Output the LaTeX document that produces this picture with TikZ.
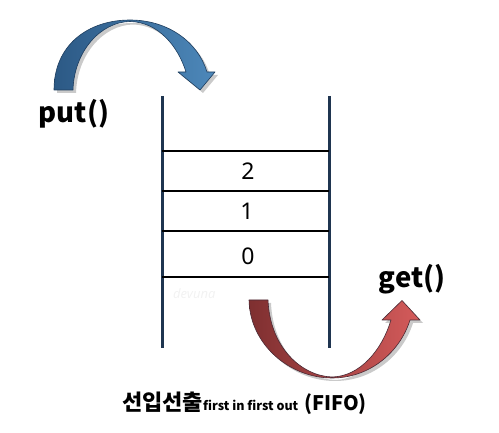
\documentclass[tikz,border=0pt]{standalone}
\usepackage{fontspec}
\setmainfont{Noto Sans}
\newfontfamily\krfont{Noto Sans CJK KR}
\usetikzlibrary{shadows}
\definecolor{navy}{HTML}{1F3550}
\definecolor{bluedark}{HTML}{2C5985}
\definecolor{bluelight}{HTML}{4D88BA}
\definecolor{blueedge}{HTML}{1E3D5E}
\definecolor{reddark}{HTML}{7E2F30}
\definecolor{redlight}{HTML}{D55B5B}
\definecolor{rededge}{HTML}{4A2A35}
\tikzset{
  wall/.style={draw=navy,line width=3pt},
  slot/.style={draw=black,line width=2.5pt},
  digit/.style={anchor=base,font=\fontsize{23}{23}\selectfont,inner sep=0pt},
  fname/.style={anchor=base west,font=\krfont\bfseries\fontsize{27.5}{27.5}\selectfont,inner sep=0pt},
  arrowshadow/.style={drop shadow={shadow xshift=3pt,shadow yshift=-3pt,opacity=0.35,fill=black!60}},
}
\begin{document}
\begin{tikzpicture}[x=1pt,y=-1pt]
\useasboundingbox (0,0) rectangle (499,433);
% walls of the queue
\coordinate (lt) at (162,96);
\coordinate (lb) at (162,348);
\coordinate (rt) at (329,96);
\coordinate (rb) at (329,348);
\draw[wall] (lt) -- (lb);
\draw[wall] (rt) -- (rb);
% slot separators
\foreach \y/\n in {151/a,191/b,231/c,277/d}{
  \coordinate (s\n l) at (162,\y);
  \coordinate (s\n r) at (329,\y);
  \draw[slot] (s\n l) -- (s\n r);
}
% numbers
\node[digit] (n2) at (248,180) {2};
\node[digit] (n1) at (247,220) {1};
\node[digit] (n0) at (248,264.5) {0};
% watermark
\node[text=black!5,font=\fontsize{13}{13}\selectfont\itshape,anchor=base west,inner sep=0pt] (wm) at (173,299) {devuna};
% put arrow (blue)
\path[arrowshadow,left color=bluedark,right color=bluelight,draw=blueedge,line width=0.6pt,line join=round]
  (54,90) .. controls (54,45) and (88,20) .. (130,20)
  .. controls (168,20) and (198,42) .. (207,72)
  -- (215,72) -- (200,90) -- (178,72) -- (186,72)
  .. controls (178,46) and (158,22) .. (130,21.5)
  .. controls (100,22) and (74,52) .. (73,90) -- cycle;
% get arrow (red)
\path[arrowshadow,left color=reddark,right color=redlight,draw=rededge,line width=0.6pt,line join=round]
  (249,300) .. controls (250,345) and (290,378) .. (332,378)
  .. controls (370,378) and (400,352) .. (410,320)
  -- (420,320) -- (402,300.5) -- (382,320) -- (391,320)
  .. controls (382,350) and (360,376.5) .. (332,377)
  .. controls (302,376) and (270,348) .. (268,300) -- cycle;
% labels
\node[fname] (put) at (38.5,123) {put()};
\node[fname] (get) at (378.5,288) {get()};
% caption
\node[anchor=base west,inner sep=0pt,font=\krfont\bfseries] (cap) at (122,411)
  {{\fontsize{22}{22}\selectfont 선입선출}{\fontsize{12.5}{12.5}\selectfont first in first out}\hspace{6pt}{\fontsize{20}{20}\selectfont (FIFO)}};
\end{tikzpicture}
\end{document}
